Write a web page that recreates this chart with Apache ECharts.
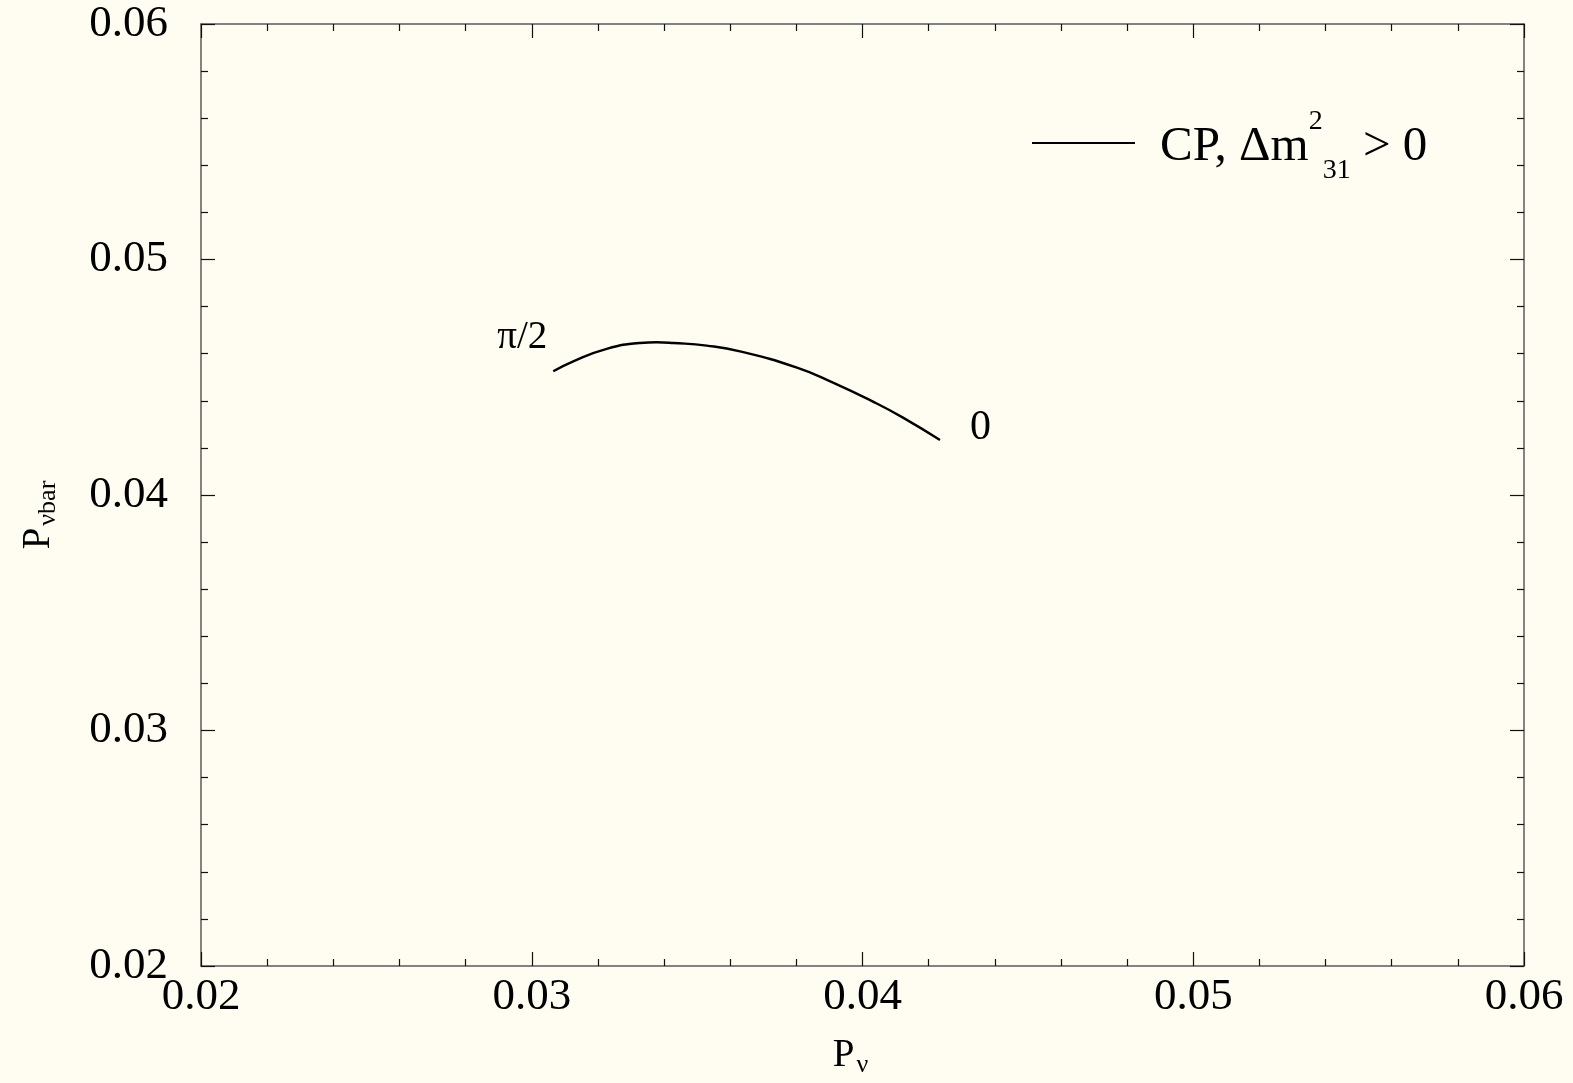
<!DOCTYPE html>
<html>
<head>
<meta charset="utf-8">
<title>P_nu vs P_nubar</title>
<script src="https://cdn.jsdelivr.net/npm/echarts@6/dist/echarts.min.js"></script>
<style>
  html, body { margin: 0; padding: 0; background: #fffdf1; }
  #chart { width: 1573px; height: 1083px; }
</style>
</head>
<body>
<div id="chart"></div>
<script>
// CP-phase trajectory: neutrino vs antineutrino oscillation probability
const pNu    = [0.030651, 0.031256, 0.032266, 0.033273, 0.033778, 0.034280, 0.035289, 0.036296, 0.038019, 0.039108, 0.040317, 0.041224, 0.042343];
const pNuBar = [0.045252, 0.045676, 0.046206, 0.046456, 0.046486, 0.046456, 0.046342, 0.046100, 0.045408, 0.044772, 0.043966, 0.043287, 0.042333];
// phase labels at the two ends of the curve
const endLabels = ['π/2', '0'];
const axisMin = 0.02, axisMax = 0.06, axisStep = 0.01;

const SERIF = "'Liberation Serif', 'Times New Roman', serif";
const curve = pNu.map((x, i) => [x, pNuBar[i]]);
const last = curve.length - 1;

const tickFmt = v => v.toFixed(2);
const axisLineStyle = { color: '#5a5a5a', width: 1.5 };
const tickStyle = { color: '#111', width: 1.2 };

function valueAxis(pos, withLabels, extra) {
  return Object.assign({
    type: 'value',
    position: pos,
    min: axisMin, max: axisMax, interval: axisStep,
    axisLine: { show: true, onZero: false, lineStyle: axisLineStyle },
    axisTick: { show: true, inside: true, length: 14, lineStyle: tickStyle },
    minorTick: { show: true, splitNumber: 5, length: 7, lineStyle: tickStyle },
    splitLine: { show: false },
    axisLabel: { show: withLabels }
  }, extra || {});
}

const tickLabel = margin => ({
  show: true, formatter: tickFmt, color: '#000',
  fontFamily: SERIF, fontSize: 45, margin: margin,
  showMinLabel: true, showMaxLabel: true
});

const chart = echarts.init(document.getElementById('chart'), null, { renderer: 'canvas' });
chart.setOption({
  backgroundColor: '#fffdf1',
  animation: false,
  grid: { left: 201, right: 49, top: 24, bottom: 116, containLabel: false },
  xAxis: [
    valueAxis('bottom', true, {
      axisLabel: tickLabel(9),
      name: '{p|P}{s|ν}',
      nameLocation: 'middle',
      nameGap: 68,
      nameTextStyle: {
        rich: {
          p: { fontFamily: SERIF, fontSize: 39, color: '#000', lineHeight: 44 },
          s: { fontFamily: SERIF, fontSize: 26, color: '#000', verticalAlign: 'bottom', lineHeight: 30, padding: [0, 24, 0, 2] }
        }
      }
    }),
    valueAxis('top', false)
  ],
  yAxis: [
    valueAxis('left', true, {
      axisLabel: tickLabel(33),
      name: '{p|P}{s|νbar}',
      nameLocation: 'middle',
      nameRotate: 90,
      nameGap: 140,
      nameTextStyle: {
        rich: {
          p: { fontFamily: SERIF, fontSize: 39, color: '#000', lineHeight: 44 },
          s: { fontFamily: SERIF, fontSize: 26, color: '#000', verticalAlign: 'bottom', lineHeight: 30, padding: [0, 40, 0, 2] }
        }
      }
    }),
    valueAxis('right', false)
  ],
  legend: {
    data: [{ name: 'CP', icon: 'rect' }],
    left: 1027,
    top: 96,
    itemWidth: 103,
    itemHeight: 2,
    itemStyle: { color: '#000' },
    formatter: () => '{gap|}{a|CP, Δm}{sup|2}{sub|31}{a| > 0}',
    textStyle: {
      rich: {
        gap: { width: 20 },
        a: { fontFamily: SERIF, fontSize: 49, color: '#000', lineHeight: 76, padding: [9, 0, 0, 0] },
        sup: { fontFamily: SERIF, fontSize: 28, color: '#000', lineHeight: 28, verticalAlign: 'top', padding: [7, 0, 0, 0] },
        sub: { fontFamily: SERIF, fontSize: 28, color: '#000', lineHeight: 84, verticalAlign: 'bottom' }
      }
    }
  },
  series: [
    {
      name: 'CP',
      type: 'line',
      data: curve,
      smooth: 0.5,
      symbol: 'none',
      lineStyle: { color: '#000', width: 2.4 },
      itemStyle: { color: '#000' }
    },
    {
      name: 'phase',
      type: 'scatter',
      symbolSize: 0,
      itemStyle: { color: '#000', opacity: 1 },
      silent: true,
      data: [
        {
          value: curve[0],
          label: {
            show: true, formatter: endLabels[0], position: [-6, -14],
            align: 'right', verticalAlign: 'bottom', opacity: 1,
            fontFamily: SERIF, fontSize: 39, color: '#000'
          }
        },
        {
          value: curve[last],
          label: {
            show: true, formatter: endLabels[1], position: [30, -12],
            align: 'left', verticalAlign: 'middle', opacity: 1,
            fontFamily: SERIF, fontSize: 42, color: '#000'
          }
        }
      ]
    }
  ]
});
</script>
</body>
</html>
